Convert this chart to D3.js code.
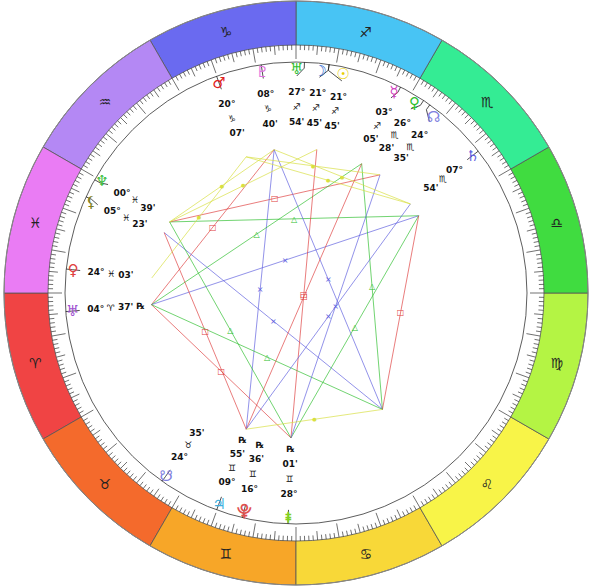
<!DOCTYPE html>
<head>
<meta charset="utf-8">
<style>
body { margin:0; background:#fff; }
text { font-family: "DejaVu Sans", sans-serif; }
.lbl { font-size:9px; font-weight:bold; fill:#111; }
</style>
</head>
<body>
<script src="https://cdn.jsdelivr.net/npm/d3@7"></script>
<script>
var width = 593, height = 587;
var cx = 296, cy = 293;
var rOuter = 292, rSign = 248, rTick = 231, rAsp = 145;

var signs = ["\u2648","\u2649","\u264A","\u264B","\u264C","\u264D","\u264E","\u264F","\u2650","\u2651","\u2652","\u2653"];
var signColors = ["#f04444","#f46a2c","#f7a628","#f8d838","#f8f448","#b4f444","#40dc40","#34ec94","#48c4f4","#6a6af0","#b488f4","#ea7cf4"];

// planets: key, glyph, colour, sign index, degree, minute, retrograde
var planets = [
  {k:"sun",  g:"\u2609", c:"#e8d000", s:8,  d:21, m:45, rx:false},
  {k:"moon", g:"\u263D", c:"#2060d0", s:8,  d:21, m:45, rx:false},
  {k:"chi",  g:"\u2645", c:"#30c030", s:8,  d:27, m:54, rx:false},
  {k:"mars", g:"\u2642", c:"#e02020", s:9,  d:20, m:7,  rx:false},
  {k:"plu",  g:"\u2647", c:"#e070e0", s:9,  d:8,  m:40, rx:false},
  {k:"mer",  g:"\u263F", c:"#d040c0", s:8,  d:3,  m:5,  rx:false},
  {k:"ven",  g:"\u2640", c:"#30c030", s:7,  d:26, m:28, rx:false},
  {k:"node", g:"\u260A", c:"#8080e0", s:7,  d:24, m:35, rx:false},
  {k:"sat",  g:"\u2644", c:"#6060e0", s:7,  d:7,  m:54, rx:false},
  {k:"nep",  g:"\u2646", c:"#40c040", s:11, d:0,  m:39, rx:false},
  {k:"lil",  g:"\u26B8", c:"#808020", s:11, d:5,  m:23, rx:false},
  {k:"ven2", g:"\u2640", c:"#e04040", s:11, d:24, m:3,  rx:false},
  {k:"ura",  g:"\u2645", c:"#a050d0", s:0,  d:4,  m:37, rx:true},
  {k:"snode",g:"\u260B", c:"#8080e0", s:1,  d:24, m:35, rx:false},
  {k:"jup",  g:"\u2643", c:"#40b0e0", s:2,  d:9,  m:55, rx:true},
  {k:"ves",  g:"\u2BD3", c:"#e05050", s:2,  d:16, m:36, rx:true},
  {k:"x",    g:"\u2BD2", c:"#80d020", s:2,  d:28, m:1,  rx:true}
];
// unlabelled aspect points (longitude)
var hidden = [{k:"p1", lon:212.2}, {k:"p2", lon:126.6}];

var aspectTypes = {
  tri: {c:"#30c030", g:"\u25B3"},
  sq:  {c:"#e04040", g:"\u25A1"},
  qx:  {c:"#6060e0", g:"\u2A2F"},
  sx:  {c:"#d8e040", g:"\u25CF"}
};
var aspects = [
  ["nep","p1","tri"], ["nep","node","sq"], ["plu","jup","qx"], ["plu","p2","qx"],
  ["plu","ura","sq"], ["mer","ura","tri"], ["ura","p1","qx"], ["lil","p2","qx"],
  ["lil","jup","sq"], ["ura","x","sq"], ["nep","x","tri"], ["ura","p2","tri"],
  ["mer","p2","tri"], ["p1","x","tri"], ["p1","p2","sq"], ["sun","x","sq"],
  ["mer","jup","sq"], ["sat","jup","qx"], ["node","x","qx"], ["jup","p2","sx"],
  ["nep","plu","sx"], ["nep","sun","sx"], ["mars","ven2","sx"], ["mars","node","sx"],
  ["mars","sat","sx"], ["plu","sat","sx"]
];

var svg = d3.select("body").append("svg").attr("width", width).attr("height", height);
var g = svg.append("g").attr("transform", "translate(" + cx + "," + cy + ")");

var ang = d3.scaleLinear().domain([0, 360]).range([Math.PI, 3 * Math.PI]);
function pt(lon, r) { var a = ang(lon); return [r * Math.cos(a), -r * Math.sin(a)]; }

// zodiac ring
var arc = d3.arc().innerRadius(rSign).outerRadius(rOuter);
signs.forEach(function(s, i) {
  var a0 = Math.PI / 2 - ang(i * 30), a1 = Math.PI / 2 - ang((i + 1) * 30);
  g.append("path").attr("d", arc({startAngle: a1, endAngle: a0}))
    .attr("fill", signColors[i]).attr("stroke", "#555").attr("stroke-width", 0.8);
  var p = pt(i * 30 + 15, 270);
  g.append("text").attr("x", p[0]).attr("y", p[1]).attr("dy", "0.35em")
    .attr("text-anchor", "middle").style("font-size", "14px").style("font-weight", "bold")
    .attr("fill", "#222").text(s);
});
g.append("circle").attr("r", rTick).attr("fill", "none").attr("stroke", "#333").attr("stroke-width", 0.8);
g.append("circle").attr("r", rOuter).attr("fill", "none").attr("stroke", "#888");

// degree ticks
d3.range(360).forEach(function(d) {
  var len = d % 10 === 0 ? 14 : (d % 5 === 0 ? 9 : 5);
  var p0 = pt(d, rSign), p1 = pt(d, rSign - len);
  g.append("line").attr("x1", p0[0]).attr("y1", p0[1]).attr("x2", p1[0]).attr("y2", p1[1])
    .attr("stroke", "#333").attr("stroke-width", 0.7);
});

var lonOf = {};
planets.forEach(function(p) { p.lon = p.s * 30 + p.d + p.m / 60; lonOf[p.k] = p.lon; });
hidden.forEach(function(h) { lonOf[h.k] = h.lon; });

// aspect lines
aspects.forEach(function(a) {
  var t = aspectTypes[a[2]];
  var p0 = pt(lonOf[a[0]], rAsp), p1 = pt(lonOf[a[1]], rAsp);
  g.append("line").attr("x1", p0[0]).attr("y1", p0[1]).attr("x2", p1[0]).attr("y2", p1[1])
    .attr("stroke", t.c).attr("stroke-width", 0.8).attr("opacity", 0.85);
});
aspects.forEach(function(a) {
  var t = aspectTypes[a[2]];
  var p0 = pt(lonOf[a[0]], rAsp), p1 = pt(lonOf[a[1]], rAsp);
  g.append("text").attr("x", (p0[0] + p1[0]) / 2).attr("y", (p0[1] + p1[1]) / 2)
    .attr("dy", "0.35em").attr("text-anchor", "middle")
    .style("font-size", a[2] === "sx" ? "5px" : "8px")
    .attr("fill", t.c).text(t.g);
});

// spread glyph positions
var order = planets.slice().sort(function(a, b) { return a.lon - b.lon; });
order.forEach(function(p) { p.pos = p.lon; });
for (var k = 0; k < 20; k++) {
  for (var n = 1; n < order.length; n++) {
    var sep = order[n].pos - order[n - 1].pos;
    if (sep < 6) { var push = (6 - sep) / 2; order[n].pos += push; order[n - 1].pos -= push; }
  }
}

function pad(v) { return (v < 10 ? "0" : "") + v; }

planets.forEach(function(p) {
  var a0 = pt(p.lon, rTick), a1 = pt(p.lon, rTick - 6), a2 = pt(p.pos, rTick - 14);
  g.append("polyline").attr("points", [a0, a1, a2].join(" "))
    .attr("fill", "none").attr("stroke", "#222").attr("stroke-width", 0.8);
  var gp = pt(p.pos, 224);
  g.append("text").attr("x", gp[0]).attr("y", gp[1]).attr("dy", "0.35em").attr("text-anchor", "middle")
    .style("font-size", "15px").style("font-weight", "bold").attr("fill", p.c).text(p.g);
  var items = [pad(p.d) + "\u00B0", signs[p.s], pad(p.m) + "'"];
  if (p.rx) items.push("\u211E");
  items.forEach(function(t, idx) {
    var q = pt(p.pos, 201 - idx * 15);
    g.append("text").attr("class", "lbl").attr("x", q[0]).attr("y", q[1]).attr("dy", "0.35em")
      .attr("text-anchor", "middle").text(t);
  });
});
</script>
</body>
